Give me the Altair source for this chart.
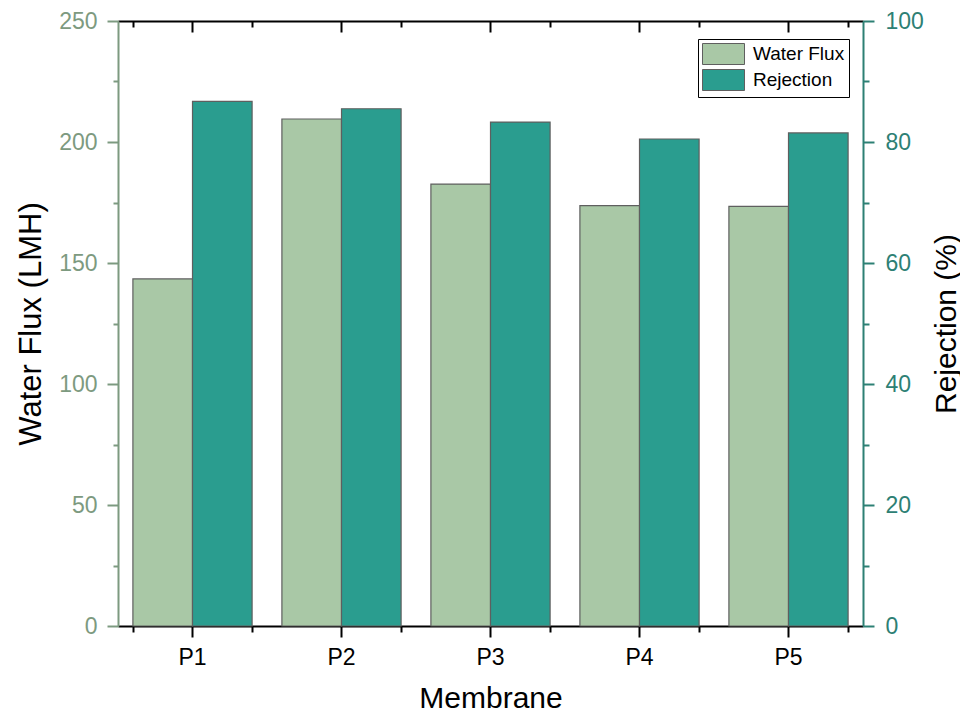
import altair as alt
import pandas as pd

membranes = ["P1", "P2", "P3", "P4", "P5"]
water_flux = [143.4, 209.5, 182.6, 173.7, 173.4]
rejection = [86.7, 85.5, 83.3, 80.5, 81.5]
series_names = ["Water Flux", "Rejection"]
series_colors = ["#a9c8a6", "#2a9d8f"]

flux_major_ticks = [0, 50, 100, 150, 200, 250]
flux_minor_ticks = [25, 75, 125, 175, 225]
rej_major_ticks = [0, 20, 40, 60, 80, 100]
rej_minor_ticks = [10, 30, 50, 70, 90]

FONT = "Liberation Sans"
LEFT_COLOR = "#7d9a80"
RIGHT_COLOR = "#2d8074"
BAR_STROKE = "#5f5f5f"

rows = []
for m, f, r in zip(membranes, water_flux, rejection):
    rows.append({"Membrane": m, "Series": series_names[0], "Value": f})
    rows.append({"Membrane": m, "Series": series_names[1], "Value": r})
df = pd.DataFrame(rows)

x_scale = alt.Scale(domain=membranes, paddingInner=0.2, paddingOuter=0.1)
off_scale = alt.Scale(domain=series_names, paddingInner=0, paddingOuter=0)
color_scale = alt.Scale(domain=series_names, range=series_colors)
flux_scale = alt.Scale(domain=[0, 250], nice=False, zero=True)
rej_scale = alt.Scale(domain=[0, 100], nice=False, zero=True)

legend = alt.Legend(
    title=None, orient="none", legendX=580, legendY=18,
    symbolType="M-1,-1H3V1H-1Z", symbolSize=441,
    symbolStrokeColor=BAR_STROKE, symbolStrokeWidth=1, symbolOpacity=1,
    labelFont=FONT, labelFontSize=19, labelColor="black", labelOffset=29,
    rowPadding=0, padding=4, strokeColor="black", fillColor="white",
)

base = alt.Chart(df)
flux_data = base.transform_filter(alt.datum.Series == series_names[0])
rej_data = base.transform_filter(alt.datum.Series == series_names[1])

H = 605

# Main layers
l1 = flux_data.mark_bar(stroke=BAR_STROKE, strokeWidth=1.2).encode(
    x=alt.X("Membrane:N", scale=x_scale, sort=membranes,
            axis=alt.Axis(orient="bottom", offset=0, title="Membrane",
                          titleFont=FONT, titleFontSize=30, titleFontWeight="normal",
                          titleColor="black", titleY=81, titleBaseline="alphabetic",
                          labelAngle=0, labelFont=FONT, labelFontSize=23, labelColor="black",
                          labelPadding=9, tickSize=11, tickWidth=2, tickColor="black",
                          domainColor="black", domainWidth=2, grid=False)),
    xOffset=alt.XOffset("Series:N", scale=off_scale),
    y=alt.Y("Value:Q", scale=flux_scale,
            axis=alt.Axis(orient="left", values=flux_major_ticks, title="Water Flux (LMH)",
                          titleFont=FONT, titleFontSize=31, titleFontWeight="normal",
                          titleColor="black", titleAngle=270, titleX=-78,
                          titleBaseline="alphabetic", titleAlign="center",
                          labelFont=FONT, labelFontSize=23, labelColor=LEFT_COLOR,
                          labelPadding=10, tickSize=11, tickWidth=2, tickColor=LEFT_COLOR,
                          domainColor=LEFT_COLOR, domainWidth=2, grid=False, offset=0)),
    color=alt.Color("Series:N", scale=color_scale, legend=legend),
)

l2 = rej_data.mark_bar(stroke=BAR_STROKE, strokeWidth=1.2).encode(
    x=alt.X("Membrane:N", scale=x_scale, sort=membranes,
            axis=alt.Axis(orient="bottom", offset=-H, title=None, labels=False,
                          tickSize=11, tickWidth=2, tickColor="black",
                          domainColor="black", domainWidth=2, grid=False)),
    xOffset=alt.XOffset("Series:N", scale=off_scale),
    y=alt.Y("Value:Q", scale=rej_scale,
            axis=alt.Axis(orient="right", values=rej_major_ticks, title="Rejection (%)",
                          titleFont=FONT, titleFontSize=30, titleFontWeight="normal",
                          titleColor="black", titleAngle=270, titleX=92,
                          titleBaseline="alphabetic", titleAlign="center",
                          labelFont=FONT, labelFontSize=23, labelColor=RIGHT_COLOR,
                          labelPadding=11, tickSize=11, tickWidth=2, tickColor=RIGHT_COLOR,
                          domainColor=RIGHT_COLOR, domainWidth=2, grid=False, offset=0)),
    color=alt.Color("Series:N", scale=color_scale, legend=legend),
)

# Invisible layers carrying the minor ticks
l3 = flux_data.mark_bar(opacity=0).encode(
    x=alt.X("Membrane:N", scale=x_scale, sort=membranes,
            axis=alt.Axis(orient="bottom", offset=0, tickBand="extent", title=None,
                          labels=False, domain=False, tickSize=6, tickWidth=2,
                          tickColor="black", grid=False)),
    xOffset=alt.XOffset("Series:N", scale=off_scale),
    y=alt.Y("Value:Q", scale=flux_scale,
            axis=alt.Axis(orient="left", values=flux_minor_ticks, title=None, labels=False,
                          domain=False, tickSize=5, tickWidth=2, tickColor=LEFT_COLOR,
                          grid=False, offset=0)),
)

l4 = rej_data.mark_bar(opacity=0).encode(
    x=alt.X("Membrane:N", scale=x_scale, sort=membranes,
            axis=alt.Axis(orient="bottom", offset=-H, tickBand="extent", title=None,
                          labels=False, domain=False, tickSize=6, tickWidth=2,
                          tickColor="black", grid=False)),
    xOffset=alt.XOffset("Series:N", scale=off_scale),
    y=alt.Y("Value:Q", scale=rej_scale,
            axis=alt.Axis(orient="right", values=rej_minor_ticks, title=None, labels=False,
                          domain=False, tickSize=6, tickWidth=2, tickColor=RIGHT_COLOR,
                          grid=False, offset=0)),
)

chart = (
    alt.layer(l3, l4, l1, l2)
    .resolve_scale(y="independent")
    .resolve_axis(x="independent", y="independent")
    .properties(
        width=745, height=H,
        autosize=alt.AutoSizeParams(type="none"),
        padding={"left": 110, "top": 13, "right": 97, "bottom": 88},
    )
    .configure(font=FONT)
    .configure_view(stroke=None)
)

chart.save("out.html", embed_options={"renderer": "svg", "actions": False})
